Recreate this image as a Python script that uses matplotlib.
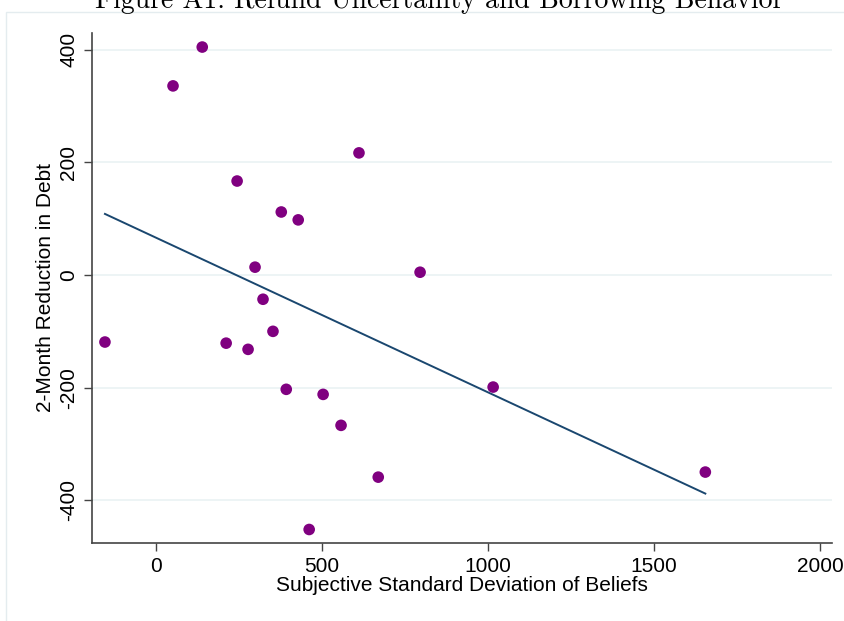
import numpy as np
import matplotlib
matplotlib.use("Agg")
import matplotlib.pyplot as plt
from matplotlib.patches import Rectangle

# subjective SD of refund beliefs vs. 2-month reduction in debt
sd_beliefs = [-154, 51, 139, 244, 211, 277, 298, 322, 352, 377,
              392, 428, 461, 503, 557, 611, 669, 795, 1015, 1654]
debt_reduction = [-119, 336, 405, 167, -121, -132, 14, -43, -100, 112,
                  -203, 98, -452, -212, -267, 217, -359, 5, -199, -350]

x_ticks = [0, 500, 1000, 1500, 2000]
y_ticks = [-400, -200, 0, 200, 400]

plt.rcParams["font.family"] = ["Liberation Sans", "DejaVu Sans"]
plt.rcParams["axes.unicode_minus"] = False

fig = plt.figure(figsize=(8.44, 6.21), dpi=100)
ax = fig.add_axes([0.109, 0.1256, 0.877, 0.8213])

# faint outer frame around the graph region
fig.patches.append(Rectangle((0.007, -0.01), 1.1, 0.991, transform=fig.transFigure,
                             fill=False, edgecolor="#e4ecef", linewidth=1.0))

x = np.array(sd_beliefs, dtype=float)
y = np.array(debt_reduction, dtype=float)
slope, intercept = np.polyfit(x, y, 1)
xs = np.array([x.min(), x.max()])

ax.scatter(x, y, s=70, color="#800080", edgecolor="none", zorder=3)
ax.plot(xs, intercept + slope * xs, color="#1a476f", linewidth=1.4, zorder=2)

ax.set_xlim(-193, 2036)
ax.set_ylim(-476, 430)
ax.set_xticks(x_ticks)
ax.set_yticks(y_ticks)
ax.grid(axis="y", color="#eaf2f3", linewidth=1.2)
ax.set_axisbelow(True)
for s in ["top", "right"]:
    ax.spines[s].set_visible(False)
for s in ["left", "bottom"]:
    ax.spines[s].set_color("#444444")
    ax.spines[s].set_linewidth(1.2)
ax.tick_params(direction="out", length=6, width=1, color="#444444", labelsize=15, pad=4)
for lab in ax.get_yticklabels():
    lab.set_rotation(90)
    lab.set_va("center")

ax.set_xlabel("Subjective Standard Deviation of Beliefs", fontsize=15, labelpad=0)
ax.set_ylabel("2-Month Reduction in Debt", fontsize=15, labelpad=3)

fig.text(0.52, 0.987, "Figure A1: Refund Uncertainty and Borrowing Behavior",
         family="cmr10", fontsize=20, ha="center", va="baseline")

fig.savefig("out.png", dpi=100)
